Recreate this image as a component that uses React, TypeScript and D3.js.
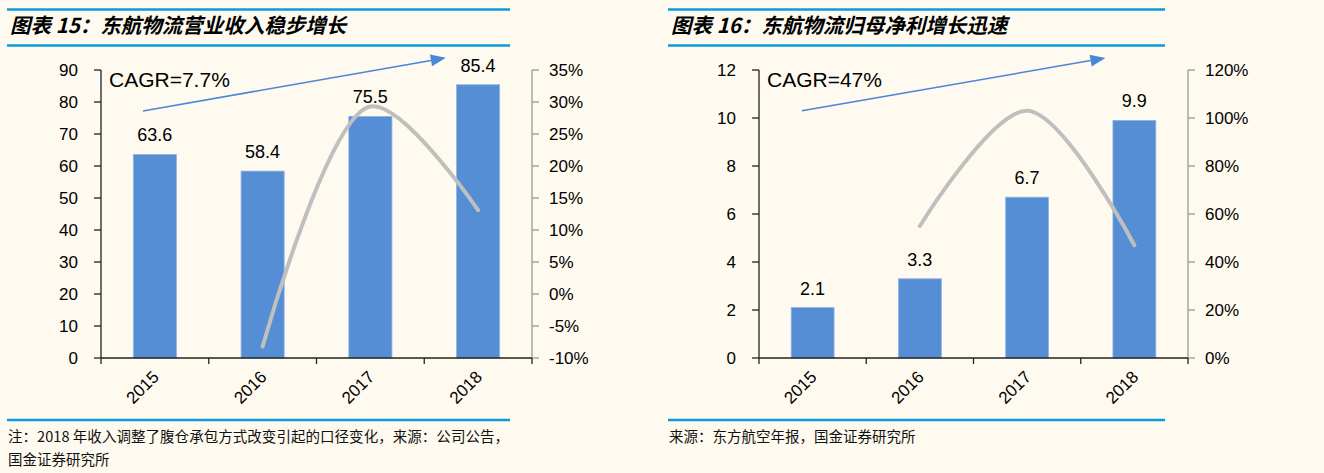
import React, { useEffect } from 'react';
import * as d3 from 'd3';

// ---------- data ----------
const years = ['2015', '2016', '2017', '2018'];
const revenue = [63.6, 58.4, 75.5, 85.4];
const revenueGrowth: (number | null)[] = [null, -8.2, 29.3, 13.1];
const revenueTicks = [0, 10, 20, 30, 40, 50, 60, 70, 80, 90];
const revenuePctTicks = [-10, -5, 0, 5, 10, 15, 20, 25, 30, 35];
const revenueCagr = 'CAGR=7.7%';

const profit = [2.1, 3.3, 6.7, 9.9];
const profitGrowth: (number | null)[] = [null, 55, 103, 47];
const profitTicks = [0, 2, 4, 6, 8, 10, 12];
const profitPctTicks = [0, 20, 40, 60, 80, 100, 120];
const profitCagr = 'CAGR=47%';

const titles = ['图表 15：东航物流营业收入稳步增长', '图表 16：东航物流归母净利增长迅速'];
const footers = [
  ['注：2018 年收入调整了腹仓承包方式改变引起的口径变化，来源：公司公告，', '国金证券研究所'],
  ['来源：东方航空年报，国金证券研究所'],
];

// ---------- style ----------
const W = 1324;
const H = 473;
const BG = '#FEFAEF';
const RULE = '#0A9BDD';
const BAR = '#558ED5';
const LINE = '#BFBFBF';
const ARROW = '#4A86D8';
const LATIN = '"Liberation Sans", Arial, Helvetica, sans-serif';
const CJK = '"Noto Sans CJK SC", "Noto Sans", sans-serif';

interface PanelProps {
  ruleX0: number;
  ruleX1: number;
  plotL: number;
  plotR: number;
  title: string;
  footer: string[];
  footerJustify: boolean;
  values: number[];
  growth: (number | null)[];
  leftTicks: number[];
  rightTicks: number[];
  cagr: string;
  arrowFrom: [number, number, number]; // [category index, band offset fraction, value]
  arrowTo: [number, number, number];
}

const PLOT_TOP = 70;
const PLOT_BOTTOM = 358;

function Panel(p: PanelProps) {
  const x = d3
    .scaleBand<string>()
    .domain(years)
    .range([p.plotL, p.plotR])
    .paddingInner(0.6)
    .paddingOuter(0.3);
  const step = x.step();
  const yL = d3
    .scaleLinear()
    .domain([p.leftTicks[0], p.leftTicks[p.leftTicks.length - 1]])
    .range([PLOT_BOTTOM, PLOT_TOP]);
  const yR = d3
    .scaleLinear()
    .domain([p.rightTicks[0], p.rightTicks[p.rightTicks.length - 1]])
    .range([PLOT_BOTTOM, PLOT_TOP]);
  const cx = (i: number) => (x(years[i]) as number) + x.bandwidth() / 2;

  const pts = p.growth
    .map((g, i) => (g === null ? null : ([cx(i), yR(g)] as [number, number])))
    .filter((d): d is [number, number] => d !== null);
  const linePath = d3.line().curve(d3.curveCatmullRom.alpha(0.5))(pts) || '';

  const ax0 = cx(p.arrowFrom[0]) + p.arrowFrom[1] * step;
  const ay0 = yL(p.arrowFrom[2]);
  const ax1 = cx(p.arrowTo[0]) + p.arrowTo[1] * step;
  const ay1 = yL(p.arrowTo[2]);
  const ang = Math.atan2(ay1 - ay0, ax1 - ax0);
  const headLen = 15;
  const headW = 6;
  const bx = ax1 - headLen * Math.cos(ang);
  const by = ay1 - headLen * Math.sin(ang);
  const nx = -Math.sin(ang);
  const ny = Math.cos(ang);
  const head = `M${ax1},${ay1}L${bx + nx * headW},${by + ny * headW}L${bx - nx * headW},${by - ny * headW}Z`;

  const boundaries = d3.range(years.length + 1).map((i) => p.plotL + i * step);

  return (
    <g>
      {/* title block */}
      <line x1={p.ruleX0} x2={p.ruleX1} y1={9.5} y2={9.5} stroke={RULE} strokeWidth={2.5} />
      <text
        x={p.ruleX0 + 3}
        y={33}
        fontFamily={CJK}
        fontWeight={700}
        fontStyle="italic"
        fontSize={20.5}
        fill="#000"
      >
        {p.title}
      </text>
      <line x1={p.ruleX0} x2={p.ruleX1} y1={45.5} y2={45.5} stroke={RULE} strokeWidth={2.5} />

      {/* bars */}
      {p.values.map((v, i) => (
        <rect
          key={'b' + i}
          x={x(years[i])}
          y={yL(v)}
          width={x.bandwidth()}
          height={PLOT_BOTTOM - yL(v)}
          fill={BAR}
          stroke="#8FB3E6"
          strokeWidth={0.8}
        />
      ))}
      {p.values.map((v, i) => (
        <text
          key={'v' + i}
          x={cx(i)}
          y={yL(v) - 13}
          textAnchor="middle"
          fontFamily={LATIN}
          fontSize={18}
          fill="#000"
        >
          {v.toFixed(1)}
        </text>
      ))}

      {/* growth line */}
      <path d={linePath} fill="none" stroke={LINE} strokeWidth={4} strokeLinecap="round" />

      {/* left axis */}
      <line x1={p.plotL} x2={p.plotL} y1={PLOT_TOP} y2={PLOT_BOTTOM} stroke="#222" strokeWidth={1.3} />
      {p.leftTicks.map((t) => (
        <g key={'lt' + t}>
          <line x1={p.plotL - 7} x2={p.plotL} y1={yL(t)} y2={yL(t)} stroke="#222" strokeWidth={1.3} />
          <text
            x={p.plotL - 23}
            y={yL(t)}
            dy="0.36em"
            textAnchor="end"
            fontFamily={LATIN}
            fontSize={17}
            fill="#000"
          >
            {t}
          </text>
        </g>
      ))}

      {/* right axis */}
      <line x1={p.plotR} x2={p.plotR} y1={PLOT_TOP} y2={PLOT_BOTTOM} stroke="#A6A6A6" strokeWidth={1.5} />
      {p.rightTicks.map((t) => (
        <g key={'rt' + t}>
          <line x1={p.plotR} x2={p.plotR + 7} y1={yR(t)} y2={yR(t)} stroke="#A6A6A6" strokeWidth={1.5} />
          <text
            x={p.plotR + 17}
            y={yR(t)}
            dy="0.36em"
            textAnchor="start"
            fontFamily={LATIN}
            fontSize={17}
            fill="#000"
          >
            {t + '%'}
          </text>
        </g>
      ))}

      {/* x axis */}
      <line x1={p.plotL} x2={p.plotR} y1={PLOT_BOTTOM} y2={PLOT_BOTTOM} stroke="#222" strokeWidth={1.3} />
      {boundaries.map((b, i) => (
        <line key={'xt' + i} x1={b} x2={b} y1={PLOT_BOTTOM} y2={PLOT_BOTTOM + 6} stroke="#222" strokeWidth={1.3} />
      ))}
      {years.map((yr, i) => (
        <text
          key={'xl' + yr}
          transform={`translate(${cx(i) + 5},${PLOT_BOTTOM + 20}) rotate(-45)`}
          textAnchor="end"
          fontFamily={LATIN}
          fontSize={17}
          fill="#000"
        >
          {yr}
        </text>
      ))}

      {/* CAGR arrow */}
      <line x1={ax0} y1={ay0} x2={bx} y2={by} stroke={ARROW} strokeWidth={1.6} />
      <path d={head} fill={ARROW} />
      <text x={p.plotL + 8} y={PLOT_TOP + 17} fontFamily={LATIN} fontSize={21} fill="#000">
        {p.cagr}
      </text>

      {/* footer */}
      <line x1={p.ruleX0} x2={p.ruleX1} y1={420} y2={420} stroke={RULE} strokeWidth={2.5} />
      {p.footer.map((f, i) => (
        <text
          key={'f' + i}
          x={p.ruleX0 + 1}
          y={442 + i * 23}
          fontFamily={CJK}
          fontSize={14.5}
          fill="#111"
          textLength={p.footerJustify && i === 0 ? p.ruleX1 - p.ruleX0 - 2 : undefined}
          lengthAdjust="spacing"
        >
          {f}
        </text>
      ))}
    </g>
  );
}

export default function App() {
  useEffect(() => {
    document.body.style.margin = '0';
    document.body.style.background = BG;
  }, []);
  return (
    <svg
      width={W}
      height={H}
      viewBox={`0 0 ${W} ${H}`}
      style={{ position: 'absolute', left: 0, top: 0, display: 'block' }}
    >
      <rect x={0} y={0} width={W} height={H} fill={BG} />
      <Panel
        ruleX0={7}
        ruleX1={510}
        plotL={101}
        plotR={532}
        title={titles[0]}
        footer={footers[0]}
        footerJustify={true}
        values={revenue}
        growth={revenueGrowth}
        leftTicks={revenueTicks}
        rightTicks={revenuePctTicks}
        cagr={revenueCagr}
        arrowFrom={[0, -0.11, 77.2]}
        arrowTo={[3, -0.3, 93.8]}
      />
      <Panel
        ruleX0={668}
        ruleX1={1165}
        plotL={759}
        plotR={1188}
        title={titles[1]}
        footer={footers[1]}
        footerJustify={false}
        values={profit}
        growth={profitGrowth}
        leftTicks={profitTicks}
        rightTicks={profitPctTicks}
        cagr={profitCagr}
        arrowFrom={[0, -0.1, 10.3]}
        arrowTo={[3, -0.27, 12.5]}
      />
    </svg>
  );
}
